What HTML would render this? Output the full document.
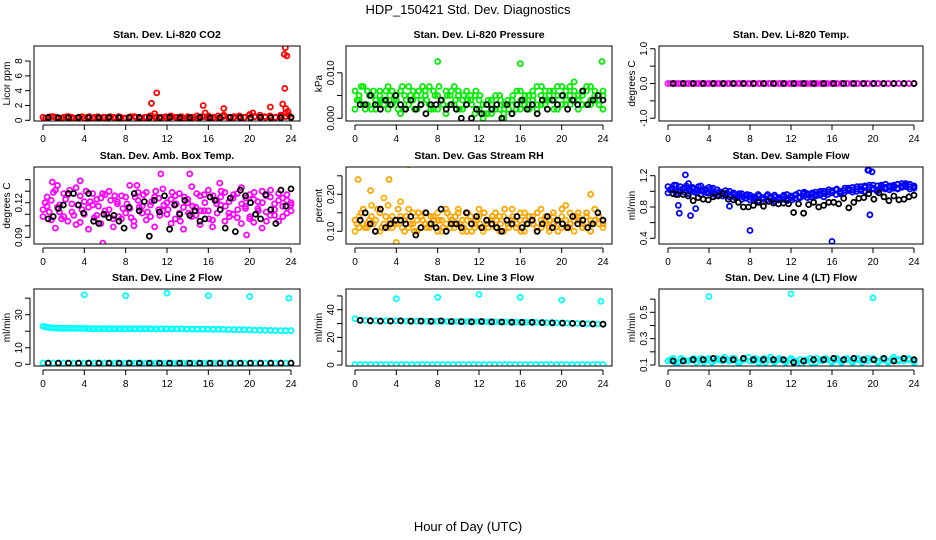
<!DOCTYPE html>
<html><head><meta charset="utf-8"><style>
html,body{margin:0;padding:0;background:#fff;}
svg{display:block;font-family:"Liberation Sans",Arial,sans-serif;}
</style></head><body>
<svg id="chart" width="936" height="540" viewBox="0 0 936 540">
<text x="468" y="14" text-anchor="middle" font-size="13">HDP_150421  Std. Dev. Diagnostics</text>
<text x="468" y="531" text-anchor="middle" font-size="13">Hour of Day (UTC)</text>
</svg>
<script>
// ---- data ----
const xTicks=[0,4,8,12,16,20,24];
const co2Red=[0.4,0.3,0.5,0.3,0.4,0.5,0.3,0.4,0.3,0.5,0.4,0.3,0.4,0.5,0.3,0.4,0.3,0.5,0.4,0.3,0.4,0.6,0.5,0.4,0.3,0.5,0.4,0.3,0.5,0.4,0.3,0.5,0.6,0.4,0.3,0.7,0.4,0.5,0.6,0.4,0.8,0.5,0.7,0.4,0.5,0.4,0.6,1.0,0.4];
const co2Red2=[0.3,0.5,0.4,0.3,0.5,0.4,0.3,0.5,0.4,0.3,0.5,0.4,0.3,0.4,0.5,0.3,0.4,0.5,0.3,0.4,0.6,0.4,0.3,0.5,0.6,0.4,0.5,0.3,0.4,0.6,0.5,0.4,0.3,0.6,0.5,0.4,0.3,0.5,0.4,0.7,0.5,0.4,0.5,0.6,0.4,0.7,0.5,0.4];
const co2OutHours=[10.5,10.8,11,15.5,15.7,17.5,20.3,22,23.2,23.35,23.45,23.6,23.4,23.5,23.7,23.8];
const co2OutVals=[2.3,0.9,3.7,2.0,1.0,1.6,1.0,1.8,2.2,8.9,9.8,8.7,4.3,1.6,1.2,0.7];
const co2Black=[0.4,0.35,0.35,0.4,0.35,0.35,0.4,0.35,0.35,0.4,0.35,0.35,0.4,0.35,0.35,0.4,0.35,0.35,0.4,0.35,0.35,0.4,0.35,0.35,0.4];
const kpaGreen1=[.006,.004,.007,.003,.005,.002,.006,.004,.007,.003,.005,.006,.002,.007,.004,.005,.003,.006,.007,.002,.005,.004,.006,.003,.007,.005,.002,.006,.004,.005,.002,.003,.001,.004,.002,.005,.001,.003,.004,.002,.006,.003,.005,.004,.007,.003,.006,.005,.004,.007,.003,.006,.005,.008,.004,.006,.003,.007,.005,.004,.006];
const kpaGreen2=[.002,.005,.003,.006,.002,.004,.005,.003,.002,.006,.004,.001,.005,.003,.006,.002,.004,.005,.003,.006,.002,.004,.001,.005,.003,.006,.004,.003,.005,.001,.004,.0,.003,.001,.005,.002,.000,.004,.001,.003,.002,.004,.003,.006,.002,.005,.003,.004,.006,.002,.005,.003,.007,.004,.002,.005,.006,.003,.004,.005,.002];
const kpaGreen3=[.004,.007,.002,.005,.006,.003,.004,.006,.005,.004,.002,.007,.004,.005,.002,.006,.007,.004,.002,.005,.007,.003,.005,.006,.004,.002,.005,.004,.003,.006,.005,.001,.004,.002,.003,.004,.003,.002,.005,.006,.004,.005,.002,.005,.003,.007,.004,.006,.002,.005,.007,.004,.003,.006,.005,.003,.007,.004,.006,.003,.005];
const kpaOutHours=[8,16,23.9];
const kpaOutVals=[.0125,.0120,.0125];
const kpaBlack=[.003,.003,.005,.003,.002,.004,.003,.005,.003,.002,.004,.002,.003,.001,.003,.003,.004,.002,.003,.002,.000,.003,.000,.002,.001,.003,.002,.003,.000,.003,.001,.003,.004,.002,.003,.001,.004,.002,.004,.003,.005,.002,.004,.003,.006,.003,.004,.005,.004];
const tempMagenta=[0,0,0,0,0,0,0,0,0,0,0,0,0,0,0,0,0,0,0,0,0,0,0,0,0,0,0,0,0,0,0,0,0,0,0,0,0,0,0,0,0,0,0,0,0,0,0,0,0];
const tempMagenta2=[0,0,0,0,0,0,0,0,0,0,0,0,0,0,0,0,0,0,0,0,0,0,0,0,0,0,0,0,0,0,0,0,0,0,0,0,0,0,0,0,0,0,0,0,0,0,0,0];
const tempBlack=[0,0,0,0,0,0,0,0,0,0,0,0,0,0,0,0,0,0,0,0,0,0,0,0,0];
const ambMag1=[.114,.125,.105,.131,.118,.108,.127,.112,.133,.103,.121,.116,.128,.109,.124,.113,.130,.106,.119,.126,.111,.135,.104,.122,.117,.129,.108,.125,.114,.132,.110,.123,.106,.128,.116,.120,.134,.109,.126,.113,.131,.105,.122,.118,.129,.111,.124,.107,.133,.115,.127,.103,.121,.130,.112,.125,.109,.128,.117,.122,.113];
const ambMag2=[.108,.117,.122,.098,.112,.128,.104,.119,.101,.126,.110,.097,.118,.123,.102,.127,.114,.099,.121,.106,.125,.115,.100,.129,.111,.105,.118,.099,.124,.113,.120,.102,.126,.111,.097,.123,.108,.116,.101,.127,.113,.099,.119,.125,.104,.121,.110,.128,.102,.117,.106,.123,.115,.098,.126,.109,.119,.104,.124,.111,.118];
const ambMag3=[.120,.112,.129,.116,.106,.123,.131,.109,.118,.114,.130,.121,.107,.117,.128,.110,.122,.126,.108,.115,.119,.107,.125,.116,.127,.112,.121,.130,.109,.118,.114,.129,.119,.104,.125,.111,.117,.128,.113,.120,.106,.126,.111,.130,.117,.108,.127,.114,.119,.124,.108,.129,.113,.120,.104,.131,.114,.122,.108,.127,.120];
const ambOutHours=[0.9,3.6,5.8,11.4,14.2,19.7,1.4,17.1,9.1];
const ambOutVals=[.138,.139,.085,.145,.145,.092,.135,.137,.135];
const ambBlack=[.106,.108,.115,.118,.128,.128,.118,.111,.128,.104,.102,.110,.107,.109,.104,.098,.116,.128,.113,.121,.091,.122,.112,.126,.097,.118,.110,.122,.109,.113,.104,.106,.125,.122,.114,.098,.124,.095,.131,.126,.120,.110,.106,.127,.114,.102,.131,.117,.132];
const rhOrange1=[.13,.11,.16,.12,.14,.10,.15,.12,.17,.11,.13,.14,.10,.16,.12,.13,.11,.15,.12,.14,.10,.13,.16,.11,.12,.15,.13,.10,.14,.12,.16,.11,.13,.12,.15,.10,.14,.12,.16,.11,.13,.15,.12,.14,.10,.16,.13,.11,.15,.12,.14,.17,.11,.13,.15,.12,.14,.10,.16,.12,.13];
const rhOrange2=[.10,.14,.12,.11,.17,.13,.10,.19,.11,.14,.12,.18,.13,.11,.15,.10,.14,.12,.11,.13,.15,.10,.12,.14,.11,.16,.10,.13,.12,.11,.14,.10,.12,.13,.11,.14,.10,.12,.13,.11,.15,.10,.12,.14,.11,.13,.12,.10,.14,.12,.11,.13,.15,.10,.14,.12,.11,.13,.16,.12,.11];
const rhOrange3=[.12,.15,.11,.13,.12,.16,.11,.14,.13,.12,.16,.11,.14,.12,.10,.15,.13,.11,.14,.12,.13,.11,.15,.13,.14,.12,.11,.15,.10,.13,.12,.15,.11,.14,.13,.12,.16,.11,.14,.12,.10,.13,.14,.12,.15,.11,.14,.13,.12,.10,.16,.11,.12,.14,.13,.11,.15,.12,.13,.14,.12];
const rhOutHours=[0.3,3.3,5.2,4.0,1.5,22.8];
const rhOutVals=[.24,.24,.28,.07,.21,.20];
const rhBlack=[.13,.15,.12,.10,.16,.11,.12,.13,.13,.12,.14,.09,.11,.15,.12,.11,.16,.10,.12,.12,.11,.15,.12,.14,.11,.13,.12,.11,.10,.13,.12,.14,.11,.12,.13,.10,.12,.14,.11,.13,.12,.11,.14,.12,.13,.11,.12,.15,.13];
const flowBlue1=[1.06,1.02,1.08,1.00,1.04,1.10,1.03,0.98,1.07,1.01,1.05,0.97,1.02,0.99,0.95,1.00,0.96,0.93,0.97,0.91,0.95,0.92,0.96,0.90,0.94,0.91,0.95,0.89,0.93,0.96,0.92,0.95,0.98,0.94,0.97,0.93,0.99,0.95,1.00,0.96,0.98,1.02,0.97,1.01,1.04,0.99,1.03,1.06,1.00,1.05,1.08,1.02,1.06,1.03,1.07,1.04,1.09,1.05,1.08,1.06,1.04];
const flowBlue2=[0.98,1.04,0.96,1.06,0.99,0.97,1.05,1.02,0.96,1.03,0.98,1.04,0.95,0.97,1.01,0.93,0.98,0.95,0.90,0.94,0.89,0.93,0.88,0.92,0.89,0.93,0.87,0.92,0.90,0.88,0.94,0.91,0.93,0.97,0.92,0.96,0.94,0.97,0.93,0.99,1.01,0.96,1.00,0.98,1.02,1.05,1.00,1.03,1.07,1.02,1.04,1.00,1.08,1.05,1.02,1.06,1.03,1.07,1.10,1.03,1.07];
const flowBlue3=[1.02,1.08,1.00,1.03,1.07,1.01,0.99,1.06,1.00,0.98,1.03,0.96,0.99,0.94,0.98,0.95,0.92,0.97,0.93,0.96,0.92,0.90,0.94,0.91,0.96,0.88,0.93,0.90,0.95,0.91,0.89,0.96,0.92,0.99,0.95,0.98,0.96,1.00,0.97,1.02,0.99,1.03,0.98,1.04,1.01,1.02,1.06,1.01,1.05,1.08,1.03,1.07,1.04,1.09,1.05,1.08,1.04,1.10,1.06,1.09,1.05];
const flowOutHours=[1.1,1.7,2.7,2.2,8.0,16.0,19.5,19.6,19.7,19.9,6.0,1.0];
const flowOutVals=[0.72,1.21,0.78,0.69,0.50,0.36,1.27,1.27,0.70,1.25,0.81,0.82];
const flowBlack=[0.97,0.96,0.96,0.94,0.88,0.92,0.90,0.89,0.93,0.94,0.97,0.90,0.89,0.86,0.80,0.80,0.82,0.86,0.81,0.87,0.85,0.84,0.85,0.84,0.73,0.84,0.72,0.83,0.86,0.80,0.82,0.86,0.86,0.84,0.91,0.79,0.86,0.91,0.92,0.97,0.90,0.98,0.93,0.88,0.94,0.89,0.90,0.93,0.95];
const line2Cyan=[23.0,22.3,22.0,21.9,21.8,21.8,21.7,21.7,21.7,21.6,21.6,21.6,21.6,21.5,21.5,21.5,21.5,21.5,21.5,21.5,21.5,21.4,21.4,21.4,21.4,21.4,21.4,21.4,21.3,21.3,21.3,21.3,21.3,21.2,21.2,21.1,21.0,21.0,20.9,20.9,20.8,20.7,20.6,20.5,20.5,20.4,20.4,20.3,20.4];
const line2Cyan2=[22.6,22.1,21.9,21.8,21.8,21.7,21.7,21.7,21.6,21.6,21.6,21.6,21.5,21.5,21.5,21.5,21.5,21.5,21.5,21.5,21.4,21.4,21.4,21.4,21.4,21.4,21.4,21.3,21.3,21.3,21.3,21.3,21.2,21.2,21.1,21.1,21.0,20.9,20.9,20.8,20.7,20.7,20.6,20.5,20.4,20.4,20.3,20.3];
const line2CyanLow=[0.8,0.8,0.8,0.8,0.8,0.8,0.8,0.8,0.8,0.8,0.8,0.8,0.8,0.8,0.8,0.8,0.8,0.8,0.8,0.8,0.8,0.8,0.8,0.8,0.8,0.8,0.8,0.8,0.8,0.8,0.8,0.8,0.8,0.8,0.8,0.8,0.8,0.8,0.8,0.8,0.8,0.8,0.8,0.8,0.8,0.8,0.8,0.8,0.8];
const line2OutHours=[4,8,12,16,20,23.8];
const line2OutVals=[42,41.5,43,41.5,41,40];
const line2Black=[0.7,0.7,0.7,0.7,0.7,0.7,0.7,0.7,0.7,0.7,0.7,0.7,0.7,0.7,0.7,0.7,0.7,0.7,0.7,0.7,0.7,0.7,0.7,0.7,0.7];
const line3Cyan=[33.5,32.5,32.3,32.2,32.1,32.0,32.0,31.9,31.9,31.8,31.8,31.8,31.7,31.7,31.7,31.6,31.6,31.6,31.5,31.5,31.5,31.5,31.4,31.4,31.4,31.3,31.3,31.2,31.2,31.1,31.1,31.0,31.0,30.9,30.9,30.8,30.7,30.6,30.6,30.5,30.4,30.3,30.2,30.1,30.0,29.9,29.8,29.7,29.6];
const line3CyanLow=[0.4,0.4,0.4,0.4,0.4,0.4,0.4,0.4,0.4,0.4,0.4,0.4,0.4,0.4,0.4,0.4,0.4,0.4,0.4,0.4,0.4,0.4,0.4,0.4,0.4,0.4,0.4,0.4,0.4,0.4,0.4,0.4,0.4,0.4,0.4,0.4,0.4,0.4,0.4,0.4,0.4,0.4,0.4,0.4,0.4,0.4,0.4,0.4,0.4];
const line3OutHours=[4,8,12,16,20,23.8];
const line3OutVals=[48,49,51,49,47,46];
const line3Black=[32.3,32.0,31.8,31.8,31.9,31.7,31.8,31.6,31.9,31.5,31.4,31.3,31.5,31.2,31.1,31.0,30.9,30.9,30.7,30.5,30.3,30.1,29.9,29.7,29.5];
const line4Cyan=[0.13,0.15,0.12,0.14,0.13,0.15,0.14,0.12,0.15,0.13,0.14,0.16,0.13,0.15,0.12,0.14,0.13,0.15,0.14,0.12,0.16,0.13,0.14,0.12,0.15,0.13,0.11,0.14,0.12,0.15,0.13,0.14,0.12,0.15,0.13,0.14,0.12,0.15,0.14,0.13,0.15,0.12,0.14,0.13,0.16,0.14,0.13,0.15,0.13];
const line4Cyan2=[0.14,0.12,0.15,0.13,0.14,0.12,0.15,0.14,0.12,0.15,0.13,0.14,0.15,0.12,0.14,0.16,0.13,0.12,0.15,0.14,0.12,0.15,0.13,0.14,0.12,0.14,0.13,0.15,0.12,0.14,0.15,0.13,0.14,0.12,0.15,0.13,0.14,0.12,0.15,0.14,0.13,0.15,0.12,0.14,0.13,0.15,0.14,0.12];
const line4OutHours=[4,12,20];
const line4OutVals=[0.62,0.64,0.61];
const line4Black=[0.13,0.13,0.14,0.14,0.15,0.14,0.14,0.15,0.14,0.14,0.14,0.14,0.12,0.13,0.14,0.14,0.15,0.14,0.15,0.14,0.14,0.15,0.13,0.15,0.14];

// ---- layout ----
const NS='http://www.w3.org/2000/svg';
const svg=document.getElementById('chart');
const colLeft=[34,346,659], colRight=[300,612,923];
const rowTop=[46,167,289], rowBot=[121,244,366];
const xPad=9;
function mk(tag,attrs,parent){const e=document.createElementNS(NS,tag);for(const k in attrs)e.setAttribute(k,attrs[k]);(parent||svg).appendChild(e);return e;}

const panels=[
 {name:'co2',title:'Stan. Dev. Li-820 CO2',ylab:'Licor ppm',c:0,r:0,ylim:[-0.094,10.03],yt:[0,2,4,6,8],yl:['0','2','4','6','8'],
  series:[{v:co2Red,col:'#ff0000'},{v:co2Red2,col:'#ff0000',s:0.25},{v:co2OutVals,h:co2OutHours,col:'#ff0000'},{v:co2Black,col:'#000',s:0.5}]},
 {name:'pressure',title:'Stan. Dev. Li-820 Pressure',ylab:'kPa',c:1,r:0,ylim:[-0.0006,0.0159],yt:[0,0.005,0.010],yl:['0.000','','0.010'],
  series:[{v:kpaGreen1,col:'#00ee00'},{v:kpaGreen2,col:'#00ee00'},{v:kpaGreen3,col:'#00ee00',s:0.2},{v:kpaOutVals,h:kpaOutHours,col:'#00ee00'},{v:kpaBlack,col:'#000',s:0.5}]},
 {name:'licor-temp',title:'Stan. Dev. Li-820 Temp.',ylab:'degrees C',c:2,r:0,ylim:[-1.08,1.08],yt:[-1,-0.5,0,0.5,1],yl:['-1.0','','0.0','','1.0'],
  series:[{v:tempMagenta,col:'#ff00ff'},{v:tempMagenta2,col:'#ff00ff',s:0.25},{v:tempBlack,col:'#000',s:0.5}]},
 {name:'amb-box-temp',title:'Stan. Dev. Amb. Box Temp.',ylab:'degrees C',c:0,r:1,ylim:[0.0842,0.151],yt:[0.09,0.10,0.11,0.12,0.13,0.14],yl:['0.09','','','0.12','',''],
  series:[{v:ambMag1,col:'#ff00ff'},{v:ambMag2,col:'#ff00ff'},{v:ambMag3,col:'#ff00ff',s:0.2},{v:ambOutVals,h:ambOutHours,col:'#ff00ff'},{v:ambBlack,col:'#000',s:0.5}]},
 {name:'gas-rh',title:'Stan. Dev. Gas Stream RH',ylab:'percent',c:1,r:1,ylim:[0.0657,0.2738],yt:[0.10,0.15,0.20,0.25],yl:['0.10','','0.20',''],
  series:[{v:rhOrange1,col:'#ffa500'},{v:rhOrange2,col:'#ffb000'},{v:rhOrange3,col:'#ffa000',s:0.2},{v:rhOutVals,h:rhOutHours,col:'#ffa500'},{v:rhBlack,col:'#000',s:0.5}]},
 {name:'sample-flow',title:'Stan. Dev. Sample Flow',ylab:'ml/min',c:2,r:1,ylim:[0.327,1.311],yt:[0.4,0.6,0.8,1.0,1.2],yl:['0.4','','0.8','','1.2'],
  series:[{v:flowBlue1,col:'#0000ff'},{v:flowBlue2,col:'#0000ff'},{v:flowBlue3,col:'#0000ff',s:0.2},{v:flowOutVals,h:flowOutHours,col:'#0000ff'},{v:flowBlack,col:'#000',s:0.5}]},
 {name:'line2-flow',title:'Stan. Dev. Line 2 Flow',ylab:'ml/min',c:0,r:2,ylim:[-1.03,45.55],yt:[0,10,20,30,40],yl:['0','10','','30',''],
  series:[{v:line2Cyan,col:'#00ffff'},{v:line2Cyan2,col:'#00ffff',s:0.25},{v:line2CyanLow,col:'#00ffff'},{v:line2OutVals,h:line2OutHours,col:'#00ffff'},{v:line2Black,col:'#000',s:0.5}]},
 {name:'line3-flow',title:'Stan. Dev. Line 3 Flow',ylab:'ml/min',c:1,r:2,ylim:[-0.72,55.0],yt:[0,10,20,30,40,50],yl:['0','','20','','40',''],
  series:[{v:line3Cyan,col:'#00ffff'},{v:line3CyanLow,col:'#00ffff'},{v:line3OutVals,h:line3OutHours,col:'#00ffff'},{v:line3Black,col:'#000',s:0.5}]},
 {name:'line4-flow',title:'Stan. Dev. Line 4 (LT) Flow',ylab:'ml/min',c:2,r:2,ylim:[0.0924,0.677],yt:[0.1,0.2,0.3,0.4,0.5,0.6],yl:['0.1','','0.3','','0.5',''],
  series:[{v:line4Cyan,col:'#00ffff'},{v:line4Cyan2,col:'#00ffff',s:0.25},{v:line4OutVals,h:line4OutHours,col:'#00ffff'},{v:line4Black,col:'#000',s:0.5}]}
];

panels.forEach(p=>{
  const L=colLeft[p.c],R=colRight[p.c],T=rowTop[p.r],B=rowBot[p.r];
  const x0=L+xPad, x1=R-xPad;
  const xs=h=>x0+(h/24)*(x1-x0);
  const ys=v=>B-(v-p.ylim[0])/(p.ylim[1]-p.ylim[0])*(B-T);
  const g=mk('g',{});
  
  
  const t=mk('text',{x:(L+R)/2,y:T-8,'text-anchor':'middle','font-size':'10.5','font-weight':'bold'},g);
  t.textContent=p.title;
  
  
  const cid='clip-'+p.name;
  const cp=mk('clipPath',{id:cid},g); mk('rect',{x:L,y:T,width:R-L,height:B-T},cp);
  const mg=mk('g',{'clip-path':'url(#'+cid+')'},g);
  
  
  p.series.forEach(s=>{
    const n=s.v.length;
    const st=s.s||0;
    s.v.forEach((val,i)=>{
      const h=s.h?s.h[i]:st+i*(24-st)/(n-1);
      const c=mk('circle',{cx:xs(h).toFixed(1),cy:ys(val).toFixed(1),r:2.5,fill:'none',stroke:s.col,'stroke-width':1.8},mg);
      
      
    });
  });
  const box=mk('rect',{x:L,y:T,width:R-L,height:B-T,fill:'none',stroke:'#000','stroke-width':1},g);
  
  
  mk('line',{x1:xs(0),x2:xs(24),y1:B+4,y2:B+4,stroke:'#000'},g);
  xTicks.forEach(h=>{
    mk('line',{x1:xs(h),x2:xs(h),y1:B+4,y2:B+9,stroke:'#000'},g);
    const tl=mk('text',{x:xs(h),y:B+21,'text-anchor':'middle','font-size':'10'},g);
    tl.textContent=h;
    
    
  });
  const yA=L-4;
  mk('line',{x1:yA,x2:yA,y1:ys(p.yt[0]),y2:ys(p.yt[p.yt.length-1]),stroke:'#000'},g);
  p.yt.forEach((v,i)=>{
    mk('line',{x1:yA-5,x2:yA,y1:ys(v),y2:ys(v),stroke:'#000'},g);
    if(p.yl[i]){
      const yy=ys(v), xx=yA-8;
      const tl=mk('text',{x:xx,y:yy,'text-anchor':'middle','font-size':'10',transform:'rotate(-90 '+xx+' '+yy+')'},g);
      tl.textContent=p.yl[i];
      
      
    }
  });
  const ly=(T+B)/2, lx=L-24;
  const yl=mk('text',{x:lx,y:ly,'text-anchor':'middle','font-size':'10',transform:'rotate(-90 '+lx+' '+ly+')'},g);
  yl.textContent=p.ylab;
  
  
});
</script>
</body></html>
